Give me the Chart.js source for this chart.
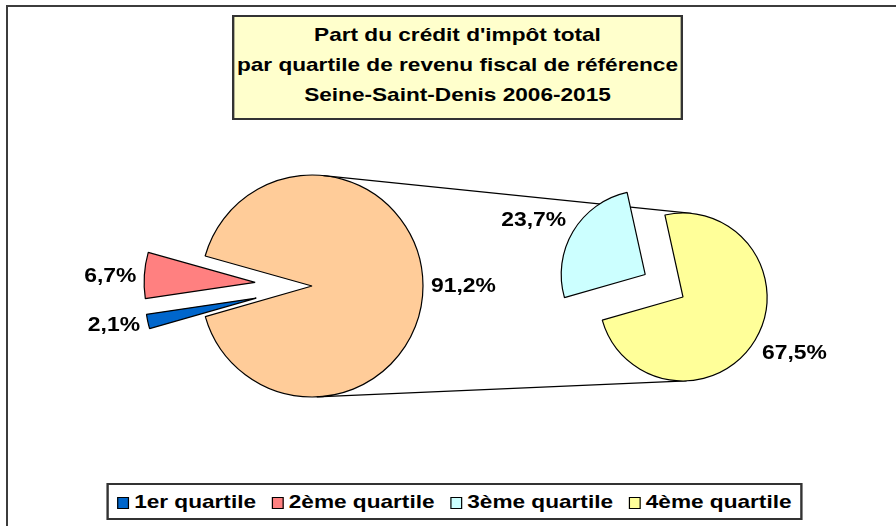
<!DOCTYPE html>
<html lang="fr">
<head>
<meta charset="utf-8">
<title>Part du crédit d'impôt total par quartile</title>
<script src="https://cdn.jsdelivr.net/npm/chart.js@4.4.1/dist/chart.umd.min.js"></script>
<style>
    html, body { margin: 0; padding: 0; background: #fff; }
    body { width: 896px; height: 526px; position: relative; overflow: hidden; font-family: "Liberation Sans", Arial, sans-serif; }
    #frame { position: absolute; left: 6px; top: 5px; width: 1000px; height: 600px; border-left: 2px solid #3c3c3c; border-top: 2px solid #3c3c3c; }
    canvas.layer { position: absolute; left: 0; top: 0; }
    #title {
        position: absolute; left: 268px; top: 15px; width: 379px; height: 105px;
        box-sizing: border-box; border: 2px solid #333; background: #ffffcc;
        padding-top: 3px; text-align: center; font-weight: bold; font-size: 19px; line-height: 30px;
        white-space: nowrap; color: #000; transform: scaleX(1.19); transform-origin: center;
    }
    #legend {
        position: absolute; left: 161.5px; top: 483px; width: 585px; height: 37px;
        box-sizing: border-box; border: 2px solid #333; background: #fff;
        display: flex; justify-content: center; align-items: center;
        font-weight: bold; font-size: 19px; white-space: nowrap; color: #000;
        transform: scaleX(1.19); transform-origin: center;
    }
    #legend .item { display: flex; align-items: center; margin: 0 6.75px; }
    #legend .swatch { width: 10px; height: 12px; box-sizing: border-box; border: 1px solid #000; margin-right: 4px; margin-top: 2px; }
</style>
</head>
<body>
<div id="frame"></div>
<canvas id="leftPie" class="layer" width="896" height="526"></canvas>
<canvas id="rightPie" class="layer" width="896" height="526"></canvas>
<div id="title">Part du crédit d'impôt total<br>par quartile de revenu fiscal de référence<br>Seine-Saint-Denis 2006-2015</div>
<div id="legend"></div>

<script>
// values (percent of the total tax credit)
const categories = ['1er quartile', '2ème quartile', '3ème quartile', '4ème quartile'];
const firstPieLabels = ['1er quartile', '2ème quartile', '3ème et 4ème quartiles'];
const firstPieValues = [2.1, 6.7, 91.2];
const secondPieLabels = ['3ème quartile', '4ème quartile'];
const secondPieValues = [23.7, 67.5];

const legendColors = ['#0066cc', '#ff8080', '#ccffff', '#ffff99'];
const firstPieColors = ['#0066cc', '#ff8080', '#ffcc99'];
const secondPieColors = ['#ccffff', '#ffff99'];

// pull some slices away from the centre (px, along the slice middle)
const explodePlugin = {
    id: 'explode',
    afterDatasetUpdate(chart, args) {
        const ds = chart.data.datasets[args.index];
        if (!ds.explode) return;
        args.meta.data.forEach((arc, i) => {
            const d = ds.explode[i] || 0;
            if (!d) return;
            const mid = (arc.startAngle + arc.endAngle) / 2;
            arc.x += Math.cos(mid) * d;
            arc.y += Math.sin(mid) * d;
        });
    }
};

// percent labels outside each slice
const valueLabels = {
    id: 'valueLabels',
    afterDatasetsDraw(chart) {
        const ctx = chart.ctx;
        const meta = chart.getDatasetMeta(0);
        const values = chart.data.datasets[0].data;
        ctx.save();
        ctx.font = 'bold 21px "Liberation Sans", Arial, sans-serif';
        ctx.fillStyle = '#000';
        ctx.textBaseline = 'middle';
        meta.data.forEach((arc, i) => {
            const mid = (arc.startAngle + arc.endAngle) / 2;
            const c = Math.cos(mid), s = Math.sin(mid);
            const r = arc.outerRadius + 8;
            const x = arc.x + c * r;
            const y = arc.y + s * r + s * Math.abs(s) * 30;
            const text = values[i].toFixed(1).replace('.', ',') + '%';
            ctx.save();
            ctx.translate(x, y);
            ctx.scale(1.09, 1);
            ctx.textAlign = c < 0 ? 'right' : 'left';
            ctx.fillText(text, 0, 1);
            ctx.restore();
        });
        ctx.restore();
    }
};

function baseOptions(radius, padding) {
    return {
        responsive: false,
        animation: false,
        events: [],
        rotation: 254,
        radius: radius,
        layout: { padding: padding },
        plugins: {
            legend: { display: false },
            title: { display: false },
            tooltip: { enabled: false }
        }
    };
}

const leftChart = new Chart(document.getElementById('leftPie'), {
    type: 'pie',
    data: {
        labels: firstPieLabels,
        datasets: [{
            data: firstPieValues,
            backgroundColor: firstPieColors,
            borderColor: '#000',
            borderWidth: 1.2,
            explode: [57, 57, 0]
        }]
    },
    options: baseOptions(111, { left: 0, right: 272, top: 46, bottom: 0 }),
    plugins: [explodePlugin, valueLabels]
});

// lines joining the big slice of the first pie to the second pie
const connectors = {
    id: 'connectors',
    beforeDatasetsDraw(chart) {
        const a = leftChart.getDatasetMeta(0).data[2];
        const b = chart.getDatasetMeta(0).data[1];
        const dx = b.x - a.x, dy = b.y - a.y;
        const d = Math.hypot(dx, dy);
        const phi = Math.atan2(dy, dx);
        const alpha = Math.acos((a.outerRadius - b.outerRadius) / d);
        const ctx = chart.ctx;
        ctx.save();
        ctx.strokeStyle = '#000';
        ctx.lineWidth = 1.2;
        [1, -1].forEach(sgn => {
            const t = phi + sgn * alpha;
            ctx.beginPath();
            ctx.moveTo(a.x + a.outerRadius * Math.cos(t), a.y + a.outerRadius * Math.sin(t));
            ctx.lineTo(b.x + b.outerRadius * Math.cos(t), b.y + b.outerRadius * Math.sin(t));
            ctx.stroke();
        });
        ctx.restore();
    }
};

const rightChart = new Chart(document.getElementById('rightPie'), {
    type: 'pie',
    data: {
        labels: secondPieLabels,
        datasets: [{
            data: secondPieValues,
            backgroundColor: secondPieColors,
            borderColor: '#000',
            borderWidth: 1.2,
            explode: [44, 0]
        }]
    },
    options: baseOptions(84, { left: 470, right: 0, top: 68, bottom: 0 }),
    plugins: [explodePlugin, connectors, valueLabels]
});

// legend
const legendBox = document.getElementById('legend');
categories.forEach((name, i) => {
    const item = document.createElement('div');
    item.className = 'item';
    const sw = document.createElement('span');
    sw.className = 'swatch';
    sw.style.background = legendColors[i];
    const txt = document.createElement('span');
    txt.textContent = name;
    item.appendChild(sw);
    item.appendChild(txt);
    legendBox.appendChild(item);
});
</script>
</body>
</html>
